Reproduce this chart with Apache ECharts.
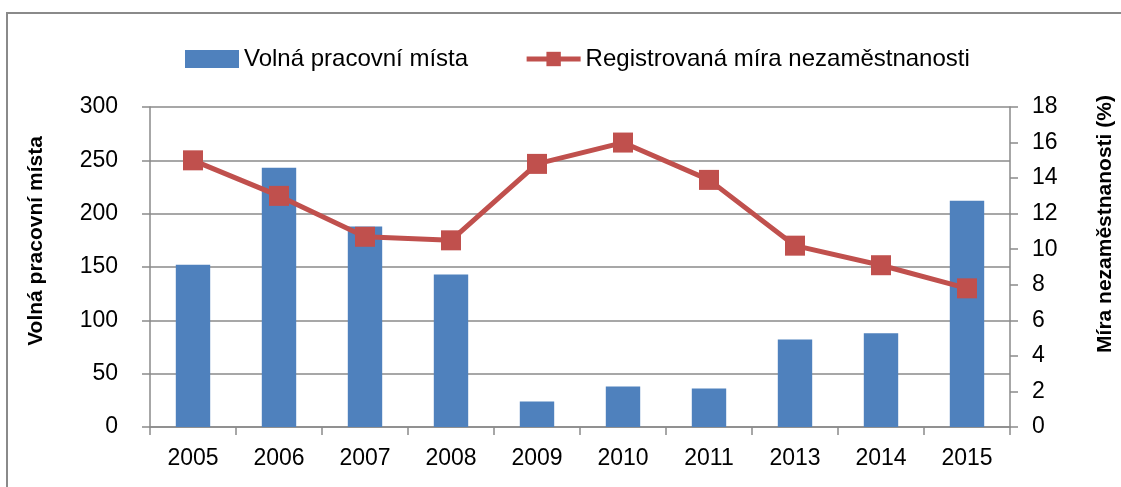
<!DOCTYPE html>
<html>
<head>
<meta charset="utf-8">
<script src="https://cdn.jsdelivr.net/npm/echarts@6/dist/echarts.min.js"></script>
<style>
html,body{margin:0;padding:0;background:#fff;}
#c{width:1121px;height:487px;}
</style>
</head>
<body>
<div id="c"></div>
<script>
const categories = ['2005','2006','2007','2008','2009','2010','2011','2013','2014','2015'];
const vacancies = [152, 243, 188, 143, 24, 38, 36, 82, 88, 212];
const unemployment = [15.0, 13.0, 10.7, 10.5, 14.8, 16.0, 13.9, 10.2, 9.1, 7.8];
const leftTicks = {min: 0, max: 300, interval: 50};
const rightTicks = {min: 0, max: 18, interval: 2};
const seriesNames = ['Volná pracovní místa', 'Registrovaná míra nezaměstnanosti'];
const axisTitles = ['Volná pracovní místa', 'Míra nezaměstnanosti (%)'];

const FONT = '"Liberation Sans", Arial, sans-serif';
const GRAY = '#8a8a8a';
const chart = echarts.init(document.getElementById('c'));
chart.setOption({
  animation: false,
  backgroundColor: '#fff',
  textStyle: {fontFamily: FONT, color: '#000'},
  graphic: [
    {type: 'rect', shape: {x: 7, y: 13, width: 1300, height: 700},
     style: {fill: 'none', stroke: GRAY, lineWidth: 2}, silent: true, z: -1},
    {type: 'text', x: 36, y: 241, rotation: Math.PI / 2,
     style: {text: axisTitles[0], font: 'bold 21px ' + FONT, fill: '#000', align: 'center', verticalAlign: 'middle'}},
    {type: 'text', x: 1105, y: 224, rotation: Math.PI / 2,
     style: {text: axisTitles[1], font: 'bold 21px ' + FONT, fill: '#000', align: 'center', verticalAlign: 'middle'}}
  ],
  legend: {
    left: 180, top: 42,
    itemWidth: 54, itemHeight: 18, itemGap: 56,
    textStyle: {fontSize: 24, fontFamily: FONT, color: '#000'},
    data: [
      {name: seriesNames[0], icon: 'rect'},
      {name: seriesNames[1], lineStyle: {width: 5, color: '#C0504D'}}
    ]
  },
  grid: {left: 150, right: 111, top: 107, bottom: 60},
  xAxis: {
    type: 'category',
    data: categories,
    boundaryGap: true,
    axisLine: {lineStyle: {color: GRAY, width: 1.5}},
    axisTick: {show: true, length: 8, lineStyle: {color: GRAY, width: 1.5}},
    axisLabel: {fontSize: 23, color: '#000', margin: 20, fontFamily: FONT}
  },
  yAxis: [
    {
      type: 'value', position: 'left',
      min: leftTicks.min, max: leftTicks.max, interval: leftTicks.interval,
      axisLine: {show: true, lineStyle: {color: GRAY, width: 1.5}},
      axisTick: {show: true, length: 8, lineStyle: {color: GRAY, width: 1.5}},
      splitLine: {show: true, lineStyle: {color: GRAY, width: 1.5}},
      axisLabel: {fontSize: 23, color: '#000', margin: 32, fontFamily: FONT}
    },
    {
      type: 'value', position: 'right',
      min: rightTicks.min, max: rightTicks.max, interval: rightTicks.interval,
      axisLine: {show: true, lineStyle: {color: GRAY, width: 1.5}},
      axisTick: {show: true, length: 8, lineStyle: {color: GRAY, width: 1.5}},
      splitLine: {show: false},
      axisLabel: {fontSize: 23, color: '#000', margin: 22, fontFamily: FONT}
    }
  ],
  series: [
    {
      name: seriesNames[0], type: 'bar', yAxisIndex: 0,
      data: vacancies, barWidth: '40%',
      itemStyle: {color: '#4F81BD'}
    },
    {
      name: seriesNames[1], type: 'line', yAxisIndex: 1,
      data: unemployment, symbol: 'rect', symbolSize: 20,
      lineStyle: {color: '#C0504D', width: 5},
      itemStyle: {color: '#C0504D'}, z: 5
    }
  ]
});
</script>
</body>
</html>
